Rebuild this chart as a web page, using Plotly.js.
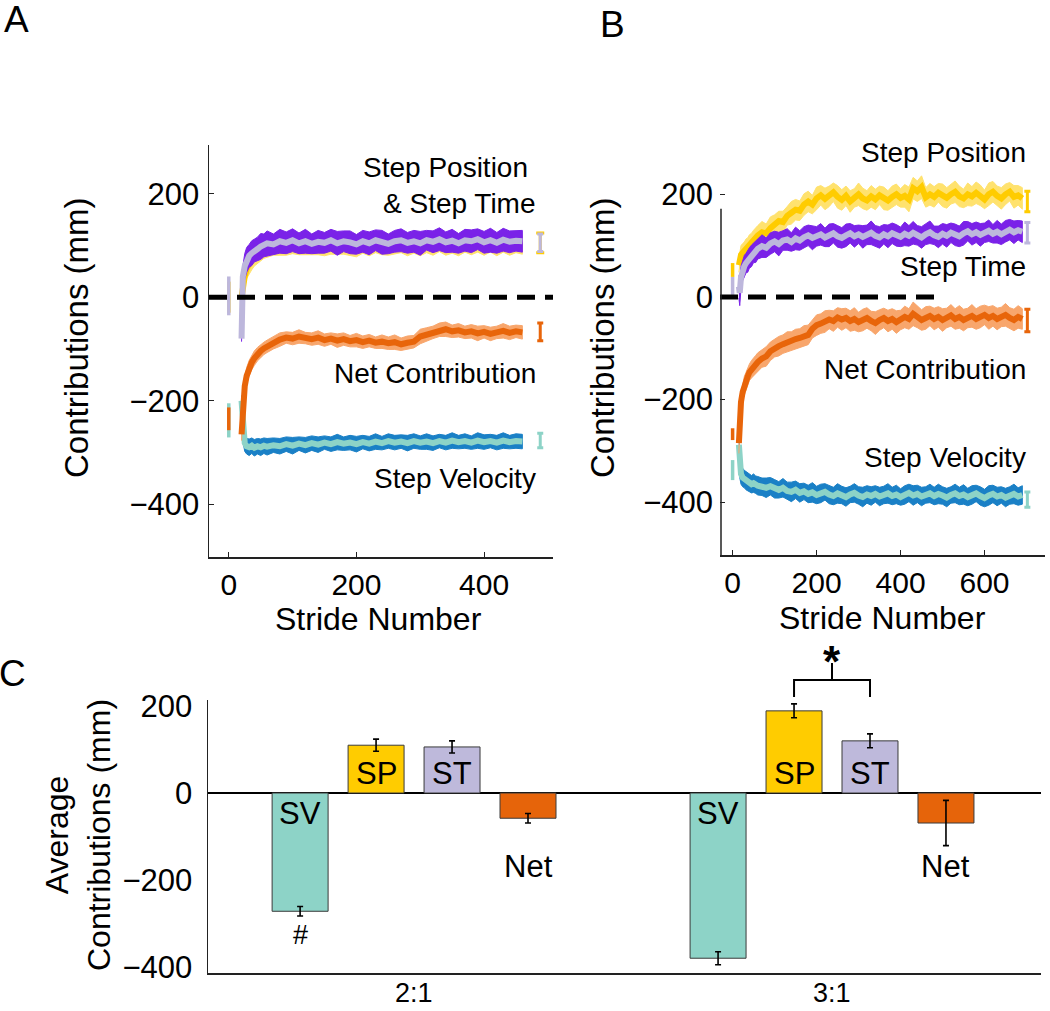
<!DOCTYPE html>
<html><head><meta charset="utf-8">
<script src="https://cdn.plot.ly/plotly-3.0.1.min.js"></script>
<style>html,body{margin:0;padding:0;background:#fff}#chart{width:1050px;height:1011px}</style>
</head><body><div id="chart"></div>
<script>
// ---------- Panel A (2:1) time series ----------
const strideA = [20,22,25,28,32,36,40,45,50,55,60,70,80,90,100,110,120,130,140,150,160,170,180,190,200,210,220,230,240,250,260,270,280,290,300,310,320,330,340,350,360,370,380,390,400,410,420,430,440,450,460];
const stMeanA = [-80,40,60,72,80,85,90,93,98,100,104, 102,108,105,110,104,108,103,107,105,110, 104,108,106,102,108,104,110,106,103,108, 110,105,108,104,110,107,112,106,109,104, 110,108,112,106,110,105,111,107,109,108];
const stSeA = [6,20,24,24,22,24,22,23,25,22,24, 20,23,21,22,20,23,19,22,20,21, 23,20,22,19,21,22,20,23,19,21, 22,20,21,23,19,21,22,20,22,19, 21,22,20,21,23,20,22,21,20,21];
const spMeanA = [0,25,40,55,65,72,78,84,88,92,95, 98,100,97,102,99,101,98,100,97,102, 99,101,98,96,101,99,103,100,97,101, 103,99,101,98,103,100,104,99,102,98, 103,101,104,99,103,98,104,100,102,101];
const spSeA = [10,21,20,19,20,19,18,19,18,17,18, 17,19,16,18,17,19,16,18,17,19, 16,18,17,18,16,19,17,18,16,18, 17,19,16,18,17,19,16,18,17,18, 16,19,17,18,16,18,17,19,16,18];
const netMeanA = [-265,-205,-172,-152,-137,-126,-118,-110,-104,-99,-95, -88,-82,-78,-80,-76,-79,-81,-78,-83,-80, -84,-81,-85,-83,-87,-84,-88,-86,-89,-87, -91,-88,-86,-76,-72,-68,-63,-62,-66,-64, -68,-66,-70,-67,-71,-68,-65,-69,-66,-68];
const netSeA = [12,18,18,16,15,14,14,13,13,12,12, 12,13,11,12,13,11,12,13,12,11, 13,12,11,13,12,12,11,13,12,14, 12,13,12,14,13,12,13,14,12,13, 12,13,14,12,13,12,14,13,12,13];
const svMeanA = [-200,-262,-282,-288,-290,-287,-291,-288,-290,-287,-289, -286,-288,-284,-287,-283,-286,-282,-285,-281,-284, -280,-283,-281,-284,-280,-283,-279,-282,-278,-281, -279,-282,-278,-281,-279,-282,-278,-281,-277,-280, -278,-281,-277,-280,-278,-281,-277,-280,-278,-279];
const svSeA = [10,16,16,15,16,15,16,15,16,15,16, 14,15,14,16,13,15,14,15,13,14, 15,13,14,15,13,14,15,13,14,14, 13,15,14,13,15,14,13,14,15,13, 14,13,15,14,13,14,15,13,14,14];

// ---------- Panel B (3:1) time series ----------
const strideB = [15,17,20,24,28,32,36,40,45,50,55,60,70,80,90,100,110,120,130,140,150,160,170,180,190,200,210,220,230,240,250,260,270,280,290,300,310,320,330,340,350,360,370,380,390,400,410,420,430,440,450,460,470,480,490,500,510,520,530,540,550,560,570,580,590,600,610,620,630,640,650,660,670,680,690];
const spMeanB = [62,75,82,86,90,94,97,101,106,111,115, 120,126,124,134,140,148,146,158,164,170, 168,180,186,180,192,198,191,196,204,195, 189,197,186,193,200,192,188,196,190,198, 192,188,195,200,193,197,190,212,206,214, 194,200,195,203,198,193,200,205,196,192, 200,196,203,198,190,200,205,197,192,200, 205,195,198,192];
const spSeB = [14,16,18,18,17,19,18,20,18,19,20, 19,21,18,22,20,19,21,18,22,20, 19,21,20,18,22,19,21,20,18,22, 20,19,21,18,22,20,19,21,20,18, 22,19,21,20,18,22,24,21,20,22, 19,21,20,18,22,20,19,21,20,18, 22,19,21,20,18,22,20,19,21,20, 18,22,19,21];
const stMeanB = [20,8,38,52,60,66,70,76,80,86,89, 94,99,96,104,108,103,110,112,107,114, 110,116,120,115,118,122,116,120,124,118, 115,120,124,118,122,117,121,125,119,116, 122,118,124,120,117,123,119,125,120,116, 122,126,120,117,123,119,125,121,118,124, 128,122,126,121,125,129,123,127,122,128, 131,126,130,127];
const stSeB = [22,25,22,20,21,19,22,20,21,19,22, 20,22,19,21,20,23,19,21,18,22, 19,21,20,23,19,21,18,22,19,21, 20,22,19,21,18,22,19,23,20,21, 19,22,20,21,19,23,20,22,19,21, 20,22,18,21,20,22,19,21,20,23, 19,21,20,22,19,21,18,22,20,21, 20,22,19,21];
const netMeanB = [-285,-232,-205,-185,-172,-163,-155,-147,-141,-136,-131, -127,-120,-116,-106,-100,-96,-92,-88,-86,-82, -80,-76,-74,-62,-55,-52,-48,-44,-47,-40, -44,-41,-47,-43,-49,-45,-41,-47,-51,-45, -41,-47,-43,-49,-45,-39,-43,-33,-39,-45, -41,-37,-43,-39,-45,-41,-36,-43,-39,-45, -41,-37,-43,-39,-35,-41,-37,-43,-39,-35, -41,-45,-39,-43];
const netSeB = [20,18,17,16,17,16,17,16,17,16,17, 18,17,19,18,17,19,18,20,18,19, 18,20,19,18,20,19,21,18,20,19, 21,19,20,22,19,21,20,19,22,20, 19,21,20,22,19,21,20,23,21,20, 22,19,21,20,22,19,21,20,22,21, 19,22,20,21,19,22,20,21,19,22, 20,21,22,20];
const svMeanB = [-288,-330,-345,-352,-355,-358,-360,-362,-365,-363,-366, -368,-370,-372,-369,-374,-376,-372,-378,-380,-376, -382,-379,-384,-381,-386,-383,-380,-385,-388,-383, -386,-390,-385,-382,-387,-390,-385,-388,-384,-389, -386,-383,-388,-385,-390,-386,-382,-387,-384,-389, -386,-383,-388,-384,-387,-391,-386,-383,-388,-385, -390,-386,-383,-388,-392,-387,-384,-389,-386,-391, -387,-384,-389,-386];
const svSeB = [20,22,20,18,17,18,17,18,17,18,17, 18,17,19,17,18,16,18,17,19,17, 18,16,17,19,17,18,16,18,17,19, 17,18,16,18,17,19,17,18,16,18, 17,19,17,18,16,18,17,19,17,18, 16,18,17,19,17,18,16,18,17,19, 17,18,16,18,17,19,17,18,16,18, 17,19,17,18];

// ---------- baseline (stride 0) and final markers; order: SV, Net, SP, ST ----------
const markSeries = ['sv','net','sp','st'];
const baseMeanA = [-238,-235,0,2.5];
const baseErrA  = [33,22,30,37.5];
const baseMeanB = [-337.5,-267.5,52.5,21.5];
const baseErrB  = [19.5,11.5,13.5,17.5];
const endMeanA  = [-277,-67,105,105];
const endErrA   = [14,17,19,17];
const endMeanB  = [-395,-46,186,125];
const endErrB   = [15,22,20,20];
const endStrideA = 488;
const endStrideB = 702;

// ---------- Panel C bars ----------
const groups = ['2:1','3:1'];
const barSV = [-272,-380];  const barSVErr = [11,15];
const barSP = [110,189];    const barSPErr = [14,16];
const barST = [106,120];    const barSTErr = [14,16];
const barNet = [-58,-69];   const barNetErr = [11,52];
const barNames = ['SV','SP','ST','Net'];

// ---------- drawing ----------
const W=1050, H=1011;
const px = v => v/W, py = v => 1 - v/H;
const FONT = '"Liberation Sans", Arial, Helvetica, sans-serif';
const COL = {sp:'#FFCC00', spBand:'#FFE26E', st:'#BDB7DC', stBand:'#7A22E8', net:'#E8650A', netBand:'#F8A66C', sv:'#8DD3C7', svBand:'#1A80C6'};

function band(x, m, s, color, xa, ya){
  const up = m.map((v,i)=>v+s[i]), lo = m.map((v,i)=>v-s[i]);
  return {type:'scatter', mode:'lines', x:x.concat(x.slice().reverse()), y:up.concat(lo.slice().reverse()),
    fill:'toself', fillcolor:color, line:{color:color, width:1}, xaxis:xa, yaxis:ya, hoverinfo:'skip'};
}
function meanLine(x, m, color, xa, ya){
  return {type:'scatter', mode:'lines', x:x, y:m, line:{color:color, width:6}, xaxis:xa, yaxis:ya};
}
function errMark(x, m, e, color, w, th, xa, ya){
  return {type:'scatter', mode:'markers', x:[x], y:[m], marker:{size:1, color:'rgba(0,0,0,0)'},
    error_y:{type:'data', array:[e], visible:true, color:color, thickness:th, width:w}, xaxis:xa, yaxis:ya};
}

const traces = [];
const seriesA = {sv:[svMeanA,svSeA], net:[netMeanA,netSeA], sp:[spMeanA,spSeA], st:[stMeanA,stSeA]};
const seriesB = {sv:[svMeanB,svSeB], net:[netMeanB,netSeB], sp:[spMeanB,spSeB], st:[stMeanB,stSeB]};
[[strideA, seriesA, 'x', 'y'], [strideB, seriesB, 'x2', 'y2']].forEach(([s, ser, xa, ya]) => {
  markSeries.forEach(k => {
    traces.push(band(s, ser[k][0], ser[k][1], COL[k+'Band'], xa, ya));
    traces.push(meanLine(s, ser[k][0], COL[k], xa, ya));
  });
});
markSeries.forEach((k,i) => {
  traces.push(errMark(0, baseMeanA[i], baseErrA[i], COL[k], 0, 3.5, 'x', 'y'));
  traces.push(errMark(0, baseMeanB[i], baseErrB[i], COL[k], 0, 3.5, 'x2', 'y2'));
  traces.push(errMark(endStrideA, endMeanA[i], endErrA[i], COL[k], k==='sp'?4:3, 3, 'x', 'y'));
  traces.push(errMark(endStrideB, endMeanB[i], endErrB[i], COL[k], 3, 3, 'x2', 'y2'));
});

const barVals = [barSV, barSP, barST, barNet];
const barErrs = [barSVErr, barSPErr, barSTErr, barNetErr];
const barCols = [COL.sv, COL.sp, '#BEB9DB', '#E6640A'];
barVals.forEach((v,i) => {
  traces.push({type:'bar', x:groups, y:v, name:barNames[i], xaxis:'x3', yaxis:'y3',
    marker:{color:barCols[i], line:{color:'#3a3a3a', width:1}},
    error_y:{type:'data', array:barErrs[i], visible:true, color:'#000', thickness:1.6, width:3}});
});

const BARGAP = 0.273;
const gw = 1 - BARGAP;
const offs = [0,1,2,3].map(i => gw*(-0.5 + (i+0.5)/4));

const tickFont = {family:FONT, size:31, color:'#000'};
const axLine = {showline:true, linecolor:'#222', linewidth:1.5, ticks:'inside', ticklen:5, tickcolor:'#222', showgrid:false, zeroline:false, tickfont:tickFont};

const ann = [];
function txt(t, x, y, size, opts){ ann.push(Object.assign({text:t, x:x, y:y, xref:'paper', yref:'paper', showarrow:false, font:{family:FONT, size:size, color:'#000'}, xanchor:'center', yanchor:'middle'}, opts||{})); }
// panel letters
txt('A', px(16), py(20), 37);
txt('B', px(612), py(24), 37);
txt('C', px(12), py(673), 37);
// axis titles
txt('Contributions (mm)', px(77), py(338), 33, {textangle:-90});
txt('Contributions (mm)', px(603), py(338), 33, {textangle:-90});
txt('Stride Number', px(378), py(619), 32);
txt('Stride Number', px(882), py(618), 32);
txt('Average<br>Contributions (mm)', px(78), py(835), 32, {textangle:-90});
// series labels A
txt('Step Position', px(530), py(168), 28, {xanchor:'right'});
txt('&amp; Step Time', px(538), py(204), 28, {xanchor:'right'});
txt('Net Contribution', px(538), py(373), 28, {xanchor:'right'});
txt('Step Velocity', px(538), py(479), 28, {xanchor:'right'});
// series labels B
txt('Step Position', px(1028), py(152), 28, {xanchor:'right'});
txt('Step Time', px(1028), py(266), 28, {xanchor:'right'});
txt('Net Contribution', px(1028), py(369), 28, {xanchor:'right'});
txt('Step Velocity', px(1028), py(457), 28, {xanchor:'right'});
// category labels of C (placed on the category axis)
groups.forEach((g,i) => {
  ann.push({text:g, x:i, y:py(993), xref:'x3', yref:'paper', showarrow:false, font:{family:FONT, size:27, color:'#000'}, yanchor:'middle'});
});
// bar labels C
const labY = [-46, 46, 46, -170];
[0,1].forEach(g => {
  barNames.forEach((n,i) => {
    ann.push({text:n, x:g+offs[i], y:labY[i], xref:'x3', yref:'y3', showarrow:false, font:{family:FONT, size:31, color:'#000'}});
  });
});
ann.push({text:'#', x:0+offs[0], y:-326, xref:'x3', yref:'y3', showarrow:false, font:{family:FONT, size:27, color:'#000'}});
ann.push({text:'<b>*</b>', x:1, y:py(661), xref:'x3', yref:'paper', showarrow:false, font:{family:FONT, size:44, color:'#000'}});

const shapes = [
  {type:'line', xref:'x', yref:'y', x0:-31, x1:508, y0:0, y1:0, line:{color:'#000', width:5, dash:'18px,10px'}},
  {type:'line', xref:'x2', yref:'y2', x0:-30, x1:480, y0:0, y1:0, line:{color:'#000', width:5, dash:'18px,10px'}},
  {type:'line', xref:'paper', yref:'y2', x0:px(721), x1:px(721), y0:-503, y1:172, line:{color:'#222', width:1.5}},
  // significance bracket in C
  {type:'path', xref:'x3', yref:'paper', path:`M ${1+offs[1]},${py(697)} L ${1+offs[1]},${py(680)} L ${1+offs[2]},${py(680)} L ${1+offs[2]},${py(697)}`, line:{color:'#000', width:2}},
  {type:'line', xref:'x3', yref:'paper', x0:1, x1:1, y0:py(680), y1:py(663), line:{color:'#000', width:2}}
];

const layout = {
  width:W, height:H, margin:{l:0, r:0, t:0, b:0}, showlegend:false,
  paper_bgcolor:'#fff', plot_bgcolor:'rgba(0,0,0,0)', font:{family:FONT, color:'#000'},
  barmode:'group', bargap:BARGAP, bargroupgap:0.263,
  xaxis: Object.assign({}, axLine, {domain:[px(209), px(553)], range:[-31,508], anchor:'y', tickvals:[0,200,400], ticklabelstandoff:0, tickfont:{family:FONT, size:30, color:'#000'}}),
  yaxis: Object.assign({}, axLine, {domain:[py(557), py(145)], range:[-502,294], anchor:'x', tickvals:[-400,-200,0,200], ticklabelstandoff:2}),
  xaxis2: Object.assign({}, axLine, {domain:[px(720), px(1045)], range:[-30,744], anchor:'y2', tickvals:[0,200,400,600], ticklabelstandoff:0, tickfont:{family:FONT, size:30, color:'#000'}}),
  yaxis2: Object.assign({}, axLine, {showline:false, domain:[py(555), py(143)], range:[-503,300], anchor:'x2', tickvals:[-400,-200,0,200], ticklabelstandoff:6}),
  xaxis3: {domain:[px(208), px(1041)], range:[-0.493,1.5], anchor:'y3', type:'category', showline:true, linecolor:'#222', linewidth:1.5, ticks:'', showticklabels:false, showgrid:false, zeroline:false},
  yaxis3: {domain:[py(973), py(700)], range:[-414,214], anchor:'x3', showline:true, linecolor:'#222', linewidth:1.5, ticks:'', showgrid:false, zeroline:true, zerolinecolor:'#000', zerolinewidth:2.5, tickvals:[-400,-200,0,200], tickfont:tickFont, ticklabelstandoff:8},
  annotations: ann, shapes: shapes
};
Plotly.newPlot('chart', traces, layout, {displayModeBar:false, staticPlot:true});
</script>
</body></html>
